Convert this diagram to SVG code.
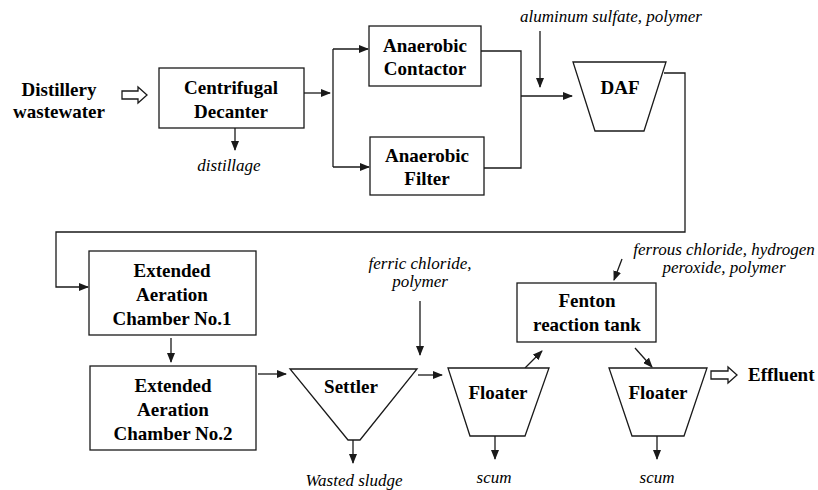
<svg xmlns="http://www.w3.org/2000/svg" width="818" height="490" viewBox="0 0 818 490">
<defs>
<marker id="ah" markerUnits="userSpaceOnUse" markerWidth="10" markerHeight="8" refX="9" refY="4" orient="auto">
<path d="M0,0 L10,4 L0,8 Z" fill="#1a1a1a"/>
</marker>
</defs>
<rect width="818" height="490" fill="#fff"/>
<g id="connectors" fill="none" stroke="#1a1a1a" stroke-width="1.3">
<path marker-end="url(#ah)" d="M304,93 H330"/>
<path d="M333,49 V167"/>
<path marker-end="url(#ah)" d="M333,49 H368"/>
<path marker-end="url(#ah)" d="M333,167 H369"/>
<path d="M481,51 H521 V168 H484"/>
<path marker-end="url(#ah)" d="M521,96 H572"/>
<path marker-end="url(#ah)" d="M540,31 V87"/>
<path marker-end="url(#ah)" d="M664,73 H685 V232 H56 V287 H88"/>
<path marker-end="url(#ah)" d="M235,128 V150"/>
<path marker-end="url(#ah)" d="M171,338 V362"/>
<path marker-end="url(#ah)" d="M258,374 H286"/>
<path marker-end="url(#ah)" d="M353,440 V463"/>
<path marker-end="url(#ah)" d="M420,301 V355"/>
<path marker-end="url(#ah)" d="M418,375 H442"/>
<path marker-end="url(#ah)" d="M525,368 L542,351"/>
<path marker-end="url(#ah)" d="M622,259 L614,280"/>
<path marker-end="url(#ah)" d="M635,348 L652,367"/>
<path marker-end="url(#ah)" d="M495,436 V459"/>
<path marker-end="url(#ah)" d="M657,436 V459"/>
<path fill="#fff" d="M122,91 L138,91 L138,87 L147,95 L138,103 L138,99 L122,99 Z"/>
<path fill="#fff" d="M711,371 L728,371 L728,367 L737,375 L728,383 L728,379 L711,379 Z"/>
</g>
<g id="input">
<text font-family="Liberation Serif" font-size="19" font-weight="bold" text-anchor="middle" x="59" y="96">Distillery</text>
<text font-family="Liberation Serif" font-size="19" font-weight="bold" text-anchor="middle" x="59" y="118">wastewater</text>
</g>
<g id="decanter">
<rect fill="#fff" stroke="#1a1a1a" stroke-width="1.3" x="159" y="68" width="145" height="60"/>
<text font-family="Liberation Serif" font-size="19" font-weight="bold" text-anchor="middle" x="231" y="94">Centrifugal</text>
<text font-family="Liberation Serif" font-size="19" font-weight="bold" text-anchor="middle" x="231" y="118">Decanter</text>
<text font-family="Liberation Serif" font-size="17" font-style="italic" text-anchor="middle" x="229" y="171">distillage</text>
</g>
<g id="contactor">
<rect fill="#fff" stroke="#1a1a1a" stroke-width="1.3" x="369" y="26" width="112" height="60"/>
<text font-family="Liberation Serif" font-size="19" font-weight="bold" text-anchor="middle" x="425" y="52">Anaerobic</text>
<text font-family="Liberation Serif" font-size="19" font-weight="bold" text-anchor="middle" x="425" y="75">Contactor</text>
</g>
<g id="filter">
<rect fill="#fff" stroke="#1a1a1a" stroke-width="1.3" x="370" y="137" width="114" height="58"/>
<text font-family="Liberation Serif" font-size="19" font-weight="bold" text-anchor="middle" x="427" y="162">Anaerobic</text>
<text font-family="Liberation Serif" font-size="19" font-weight="bold" text-anchor="middle" x="427" y="185">Filter</text>
</g>
<g id="daf">
<path fill="#fff" stroke="#1a1a1a" stroke-width="1.3" d="M573,62 L666,62 L644,131 L595,131 Z"/>
<text font-family="Liberation Serif" font-size="19" font-weight="bold" text-anchor="middle" x="620" y="94">DAF</text>
<text font-family="Liberation Serif" font-size="17" font-style="italic" text-anchor="middle" x="611" y="22">aluminum sulfate, polymer</text>
</g>
<g id="ea1">
<rect fill="#fff" stroke="#1a1a1a" stroke-width="1.3" x="89" y="251" width="167" height="84"/>
<text font-family="Liberation Serif" font-size="19" font-weight="bold" text-anchor="middle" x="172" y="277">Extended</text>
<text font-family="Liberation Serif" font-size="19" font-weight="bold" text-anchor="middle" x="172" y="301">Aeration</text>
<text font-family="Liberation Serif" font-size="19" font-weight="bold" text-anchor="middle" x="172" y="325">Chamber No.1</text>
</g>
<g id="ea2">
<rect fill="#fff" stroke="#1a1a1a" stroke-width="1.3" x="90" y="366" width="166" height="84"/>
<text font-family="Liberation Serif" font-size="19" font-weight="bold" text-anchor="middle" x="173" y="392">Extended</text>
<text font-family="Liberation Serif" font-size="19" font-weight="bold" text-anchor="middle" x="173" y="416">Aeration</text>
<text font-family="Liberation Serif" font-size="19" font-weight="bold" text-anchor="middle" x="173" y="440">Chamber No.2</text>
</g>
<g id="settler">
<path fill="#fff" stroke="#1a1a1a" stroke-width="1.3" d="M290,369 L417,369 L360,440 L348,440 Z"/>
<text font-family="Liberation Serif" font-size="19" font-weight="bold" text-anchor="middle" x="351" y="393">Settler</text>
<text font-family="Liberation Serif" font-size="17" font-style="italic" text-anchor="middle" x="354" y="486">Wasted sludge</text>
</g>
<g id="ferric">
<text font-family="Liberation Serif" font-size="17" font-style="italic" text-anchor="middle" x="420" y="269">ferric chloride,</text>
<text font-family="Liberation Serif" font-size="17" font-style="italic" text-anchor="middle" x="420" y="287">polymer</text>
</g>
<g id="floater1">
<path fill="#fff" stroke="#1a1a1a" stroke-width="1.3" d="M448,368 L549,368 L525,436 L470,436 Z"/>
<text font-family="Liberation Serif" font-size="19" font-weight="bold" text-anchor="middle" x="498" y="399">Floater</text>
<text font-family="Liberation Serif" font-size="17" font-style="italic" text-anchor="middle" x="494" y="483">scum</text>
</g>
<g id="fenton">
<rect fill="#fff" stroke="#1a1a1a" stroke-width="1.3" x="517" y="283" width="139" height="59"/>
<text font-family="Liberation Serif" font-size="19" font-weight="bold" text-anchor="middle" x="587" y="307">Fenton</text>
<text font-family="Liberation Serif" font-size="19" font-weight="bold" text-anchor="middle" x="587" y="331">reaction tank</text>
<text font-family="Liberation Serif" font-size="17" font-style="italic" text-anchor="middle" x="724" y="255">ferrous chloride, hydrogen</text>
<text font-family="Liberation Serif" font-size="17" font-style="italic" text-anchor="middle" x="724" y="273">peroxide, polymer</text>
</g>
<g id="floater2">
<path fill="#fff" stroke="#1a1a1a" stroke-width="1.3" d="M609,368 L707,368 L684,436 L632,436 Z"/>
<text font-family="Liberation Serif" font-size="19" font-weight="bold" text-anchor="middle" x="658" y="399">Floater</text>
<text font-family="Liberation Serif" font-size="17" font-style="italic" text-anchor="middle" x="657" y="483">scum</text>
</g>
<g id="effluent">
<text font-family="Liberation Serif" font-size="19" font-weight="bold" x="748" y="381">Effluent</text>
</g>
</svg>
